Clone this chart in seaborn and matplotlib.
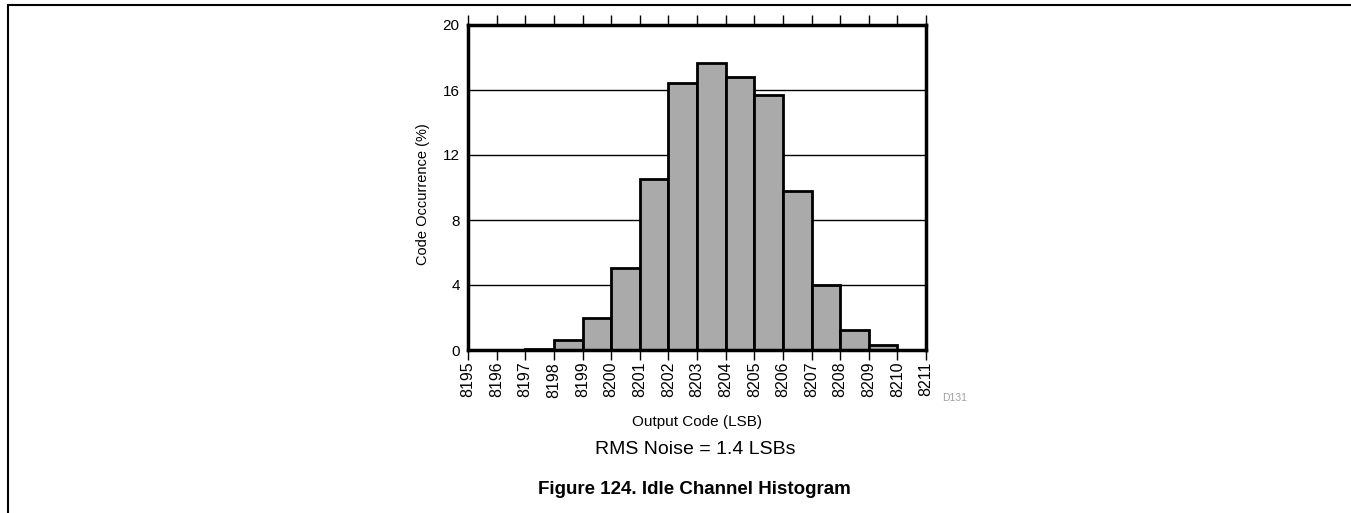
import numpy as np
import pandas as pd
import matplotlib
matplotlib.use("Agg")
import matplotlib.pyplot as plt
from matplotlib.lines import Line2D
import seaborn as sns

# Data
codes = [8195, 8196, 8197, 8198, 8199, 8200, 8201, 8202, 8203, 8204, 8205, 8206, 8207, 8208, 8209, 8210]
occurrence = [0.0, 0.0, 0.08, 0.6, 1.99, 5.05, 10.5, 16.45, 17.64, 16.82, 15.67, 9.77, 4.0, 1.21, 0.32, 0.03]
tick_codes = list(range(8195, 8212))
y_ticks = [0, 4, 8, 12, 16, 20]

sns.set_theme(style="white")
plt.rcParams['font.family'] = ['Liberation Sans', 'DejaVu Sans']
plt.rcParams['text.color'] = 'black'
plt.rcParams['xtick.color'] = 'black'
plt.rcParams['ytick.color'] = 'black'
plt.rcParams['axes.labelcolor'] = 'black'

fig = plt.figure(figsize=(13.51, 5.13), dpi=100)
ax = fig.add_axes([468/1351, 1-350/513, (926-468)/1351, (350-25)/513])

df = pd.DataFrame({"code": [c + 0.5 for c in codes], "occ": occurrence})
sns.histplot(data=df, x="code", weights="occ", binwidth=1, binrange=(8195, 8211),
             color="#aaaaaa", edgecolor="black", linewidth=2, alpha=1, ax=ax, zorder=3)

ax.set_xlim(8195, 8211)
ax.set_ylim(0, 20)
ax.set_yticks(y_ticks)
ax.set_yticklabels([str(v) for v in y_ticks], fontsize=11)
ax.set_xticks(tick_codes)
ax.set_xticklabels([str(v) for v in tick_codes], rotation=90, fontsize=11.5)
ax.tick_params(axis='x', which='both', direction='out', length=7, width=1, color='black',
               top=True, bottom=True, labeltop=False, pad=1.5)
ax.tick_params(axis='y', length=0, pad=6)
ax.yaxis.grid(True, color='black', linewidth=1)
ax.xaxis.grid(False)
ax.set_axisbelow(True)
for s in ax.spines.values():
    s.set_color('black')
    s.set_linewidth(2.5)
    s.set_zorder(5)

ax.set_xlabel("Output Code (LSB)", fontsize=11)
ax.set_ylabel("Code Occurrence (%)", fontsize=10.5)
ax.xaxis.set_label_coords(0.5, -(422-350)/325, transform=ax.transAxes)
ax.xaxis.label.set_va('center')
ax.yaxis.set_label_coords(-(468-423)/458, 0.48, transform=ax.transAxes)
ax.yaxis.label.set_va('center')

fig.text(942/1351, 1-398/513, "D131", fontsize=7.5, color="#a0a0a0", ha='left', va='center')
fig.text(695/1351, 1-449/513, "RMS Noise = 1.4 LSBs", fontsize=14, ha='center', va='center')
fig.text(694/1351, 1-489/513, "Figure 124. Idle Channel Histogram", fontsize=13.5,
         fontweight='bold', ha='center', va='center')

# Page frame
fig.add_artist(Line2D([8/1351, 1.0], [1-5/513, 1-5/513], color='black', linewidth=1.5,
                      transform=fig.transFigure))
fig.add_artist(Line2D([8/1351, 8/1351], [0, 1-5/513], color='black', linewidth=1.5,
                      transform=fig.transFigure))

fig.savefig("out.png", dpi=100)
